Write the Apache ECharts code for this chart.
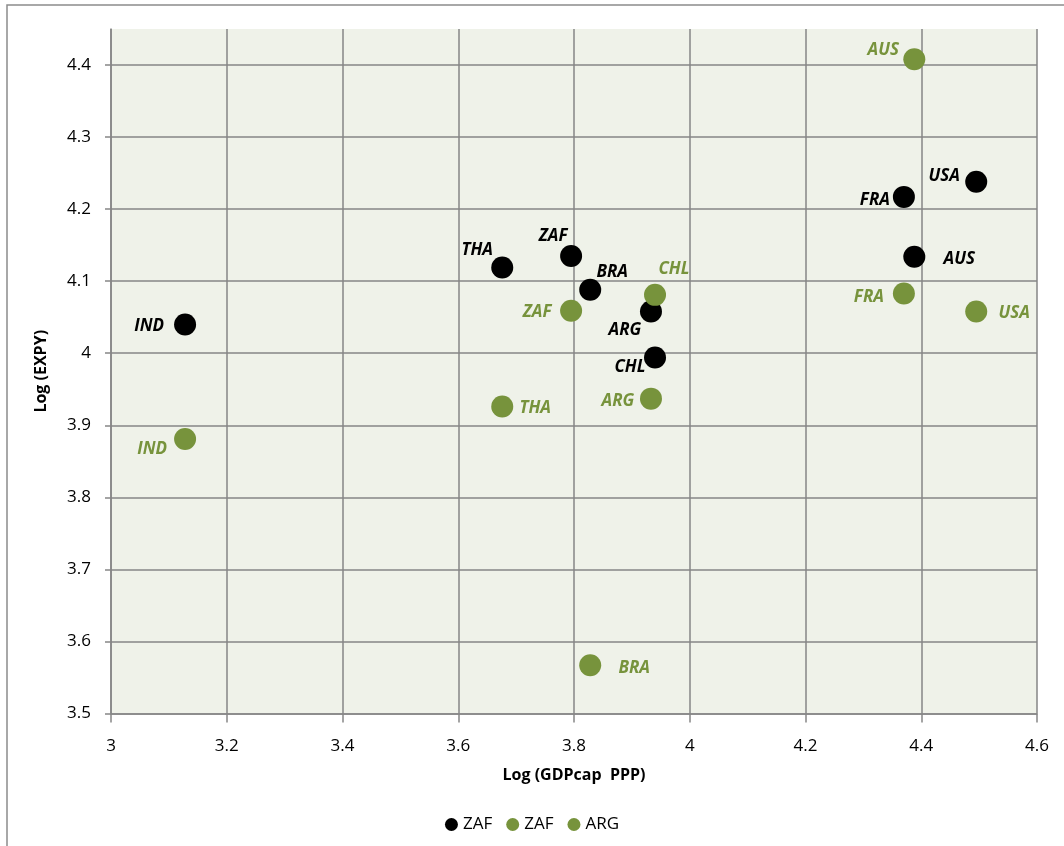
<!DOCTYPE html>
<html><head><meta charset="utf-8">
<script src="https://cdn.jsdelivr.net/npm/echarts@6/dist/echarts.min.js"></script>
<style>html,body{margin:0;padding:0;background:#fff}#c{width:1064px;height:846px}</style>
</head><body><div id="c"></div>
<script>
const countries = ['IND','THA','ZAF','BRA','ARG','CHL','FRA','AUS','USA'];
const logGDPcap = [3.128, 3.676, 3.795, 3.828, 3.933, 3.940, 4.370, 4.388, 4.495];
const logEXPY_1 = [4.040, 4.119, 4.135, 4.088, 4.058, 3.994, 4.217, 4.134, 4.238];
const logEXPY_2 = [3.881, 3.926, 4.059, 3.567, 3.937, 4.081, 4.083, 4.408, 4.058];
const seriesNames = ['ZAF', 'ZAF', 'ARG'];
const xTicks = {min: 3, max: 4.6, interval: 0.2};
const yTicks = {min: 3.5, max: 4.45, interval: 0.1};

// label placement (style only), text-centre offsets from the marker
const offs1 = {IND:[-36,2], THA:[-25,-17], ZAF:[-18,-20], BRA:[22,-18], ARG:[-26,19], CHL:[-25,10], FRA:[-29,3], AUS:[45,2], USA:[-32,-6]};
const offs2 = {IND:[-33,10], THA:[33,2], ZAF:[-34,1], BRA:[44,3], ARG:[-33,3], CHL:[19,-26], FRA:[-35,4], AUS:[-31,-9], USA:[38,2]};

const GREEN = '#77933C';
const FONT = '"Open Sans", "Liberation Sans", sans-serif';

function mk(ys, offs) {
  return countries.map((c, i) => ({
    value: [logGDPcap[i], ys[i]],
    name: c,
    label: {offset: offs[c]}
  }));
}

const chart = echarts.init(document.getElementById('c'), null, {renderer: 'canvas'});
chart.setOption({
  animation: false,
  backgroundColor: '#fff',
  graphic: [{
    type: 'rect', shape: {x: 7, y: 5, width: 1200, height: 1000},
    style: {fill: 'none', stroke: '#8c8c8c', lineWidth: 1.5}, silent: true, z: -1
  }],
  grid: {left: 111, top: 29, right: 27, bottom: 132.5, show: true, backgroundColor: '#EFF2E9', borderWidth: 0},
  xAxis: {
    type: 'value', min: xTicks.min, max: xTicks.max, interval: xTicks.interval,
    name: 'Log (GDPcap  PPP)', nameLocation: 'middle', nameGap: 54,
    nameTextStyle: {fontFamily: FONT, fontWeight: 'bold', fontSize: 16, color: '#000'},
    axisLine: {show: true, lineStyle: {color: '#868686', width: 1.5}},
    axisTick: {show: true, length: 9, lineStyle: {color: '#868686', width: 1.5}},
    axisLabel: {fontFamily: FONT, fontSize: 17, color: '#000', margin: 24,
      formatter: v => String(Math.round(v * 10) / 10)},
    splitLine: {show: true, lineStyle: {color: '#868686', width: 1.5}}
  },
  yAxis: {
    type: 'value', min: yTicks.min, max: yTicks.max, interval: yTicks.interval,
    name: 'Log (EXPY)', nameLocation: 'middle', nameGap: 62, nameRotate: 90,
    nameTextStyle: {fontFamily: FONT, fontWeight: 'bold', fontSize: 16, color: '#000'},
    axisLine: {show: true, lineStyle: {color: '#868686', width: 1.5}},
    axisTick: {show: true, length: 6, lineStyle: {color: '#868686', width: 1.5}},
    axisLabel: {fontFamily: FONT, fontSize: 17, color: '#000', margin: 20, showMaxLabel: false,
      formatter: v => String(Math.round(v * 10) / 10)},
    splitLine: {show: true, showMaxLine: false, lineStyle: {color: '#868686', width: 1.5}}
  },
  legend: {
    bottom: 8, left: 'center', icon: 'circle', itemWidth: 13, itemHeight: 13, itemGap: 14,
    textStyle: {fontFamily: FONT, fontSize: 17, color: '#000'},
    data: ['s0', 's1', 's2'],
    formatter: n => seriesNames[+n.slice(1)]
  },
  series: [
    {name: 's0', type: 'scatter', symbolSize: 22, itemStyle: {color: '#000', opacity: 1},
     label: {show: true, position: 'inside', formatter: '{b}', fontFamily: FONT, fontStyle: 'italic', fontWeight: 'bold', fontSize: 17, color: '#000'},
     data: mk(logEXPY_1, offs1), z: 3},
    {name: 's1', type: 'scatter', symbolSize: 22, itemStyle: {color: GREEN, opacity: 1},
     label: {show: true, position: 'inside', formatter: '{b}', fontFamily: FONT, fontStyle: 'italic', fontWeight: 'bold', fontSize: 17, color: GREEN},
     data: mk(logEXPY_2, offs2), z: 4},
    {name: 's2', type: 'scatter', symbolSize: 22, itemStyle: {color: GREEN, opacity: 1}, data: []}
  ]
});
</script></body></html>
